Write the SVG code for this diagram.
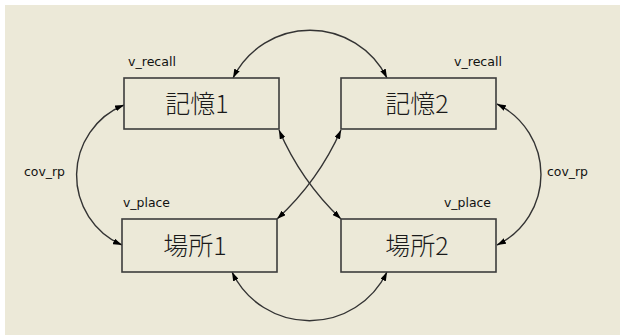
<svg xmlns="http://www.w3.org/2000/svg" width="620" height="335" viewBox="0 0 620 335">
<style>
.box{fill:none;stroke:#3c3c3c;stroke-width:1.6}
.lbl{font-family:"Noto Sans CJK JP","Noto Sans",sans-serif;font-size:25px;font-weight:300;fill:#1a1a1a;text-anchor:middle}
.sm{font-family:"DejaVu Sans",sans-serif;font-size:12px;fill:#111}
.cv{fill:none;stroke:#333;stroke-width:1.4;marker-start:url(#ah);marker-end:url(#ah)}
</style>
<defs>
<marker id="ah" viewBox="0 0 9 6" refX="9" refY="3" markerWidth="9" markerHeight="6" markerUnits="userSpaceOnUse" orient="auto-start-reverse">
<path d="M0,0 L9,3 L0,6 z" fill="#000"/>
</marker>
</defs>
<rect x="0" y="0" width="620" height="335" fill="#ffffff"/>
<rect x="5" y="5" width="615" height="330" fill="#ECE9D8"/>
<g id="connectors">
<path class="cv" d="M233,78 A86,86 0 0 1 387,78"/>
<path class="cv" d="M232,272 A86,86 0 0 0 387,272"/>
<path class="cv" d="M124,105 A76,76 0 0 0 122,245"/>
<path class="cv" d="M497,104 A78.5,78.5 0 0 1 497,245"/>
<path class="cv" d="M279,130 A270,270 0 0 0 341,219"/>
<path class="cv" d="M341,130 A270,270 0 0 1 277,219"/>
<text class="sm" x="24" y="176" textLength="41" lengthAdjust="spacingAndGlyphs">cov_rp</text>
<text class="sm" x="547" y="176" textLength="41" lengthAdjust="spacingAndGlyphs">cov_rp</text>
</g>
<g id="kioku1">
<rect class="box" x="124" y="78" width="155" height="51"/>
<text class="lbl" x="197" y="113">記憶1</text>
<text class="sm" x="128" y="66" textLength="48" lengthAdjust="spacingAndGlyphs">v_recall</text>
</g>
<g id="kioku2">
<rect class="box" x="341" y="78" width="155" height="51"/>
<text class="lbl" x="417" y="113">記憶2</text>
<text class="sm" x="454" y="66" textLength="48" lengthAdjust="spacingAndGlyphs">v_recall</text>
</g>
<g id="basho1">
<rect class="box" x="122" y="219" width="155" height="53"/>
<text class="lbl" x="195" y="255">場所1</text>
<text class="sm" x="123" y="207" textLength="47" lengthAdjust="spacingAndGlyphs">v_place</text>
</g>
<g id="basho2">
<rect class="box" x="341" y="219" width="155" height="53"/>
<text class="lbl" x="417" y="255">場所2</text>
<text class="sm" x="444" y="207" textLength="47" lengthAdjust="spacingAndGlyphs">v_place</text>
</g>
</svg>
